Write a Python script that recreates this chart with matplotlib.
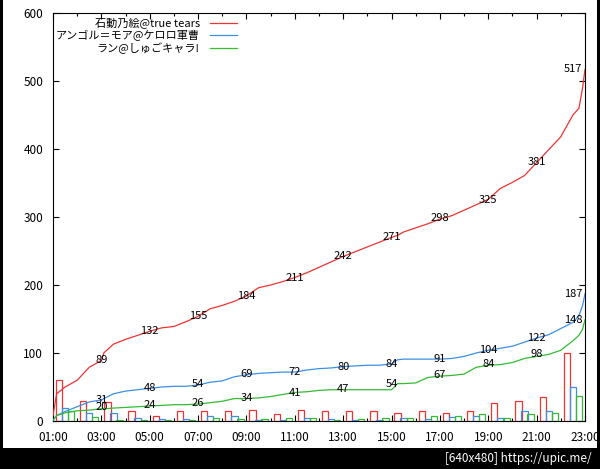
import matplotlib
matplotlib.use("Agg")
import numpy as np
import matplotlib.pyplot as plt
from matplotlib.patches import Rectangle
from matplotlib.lines import Line2D

plt.rcParams['font.family'] = ['Noto Sans CJK JP', 'DejaVu Sans']

# series names
names = ['石動乃絵@true tears', 'アンゴル＝モア@ケロロ軍曹', 'ラン@しゅごキャラ!']
colors = ['#ee3333', '#3d8fe6', '#33bb33']

# cumulative counts (line), sampled at these hours
times = [1.0, 1.15, 1.5, 2.0, 2.5, 3.0, 3.1, 3.5, 4.0, 4.5, 5.0, 5.5, 6.0, 6.5,
         7.0, 7.5, 8.0, 8.5, 9.0, 9.5, 10.0, 10.5, 11.0, 11.5, 12.0, 12.5, 13.0,
         13.5, 14.0, 14.5, 15.0, 15.25, 15.5, 16.0, 16.5, 17.0, 17.5, 18.0, 18.5,
         19.0, 19.5, 20.0, 20.5, 21.0, 21.5, 22.0, 22.5, 22.75, 22.9, 23.0]
red_cum = [8, 40, 50, 60, 79, 89, 100, 113, 120, 126, 132, 137, 139, 146,
           154, 165, 170, 176, 184, 196, 200, 205, 211, 218, 226, 234, 242,
           249, 256, 263, 270, 273, 278, 284, 290, 297, 302, 310, 318,
           326, 342, 351, 361, 380, 399, 418, 450, 460, 490, 517]
blue_cum = [1, 8, 14, 21, 28, 31, 33, 40, 44, 46, 48, 50, 51, 51,
            53, 57, 59, 65, 68, 70, 71, 72, 72, 75, 77, 78, 80,
            81, 82, 82, 84, 90, 91, 91, 91, 91, 92, 95, 100,
            104, 107, 110, 116, 122, 127, 136, 145, 155, 170, 187]
green_cum = [1, 8, 12, 15, 16, 18, 18, 19, 20, 21, 22, 23, 24, 24,
             25, 27, 29, 33, 33, 34, 36, 39, 42, 43, 45, 46, 46,
             46, 46, 46, 46, 55, 55, 56, 64, 66, 67, 69, 79,
             82, 83, 86, 92, 95, 98, 104, 118, 126, 135, 149]

# labels on the lines at odd hours
label_hours = [3, 5, 7, 9, 11, 13, 15, 17, 19, 21, 23]
red_labels = [89, 132, 155, 184, 211, 242, 271, 298, 325, 381, 517]
blue_labels = [31, 48, 54, 69, 72, 80, 84, 91, 104, 122, 187]
green_labels = [20, 24, 26, 34, 41, 47, 54, 67, 84, 98, 148]

# hourly counts (bars), hour starting at 01:00 ... 22:00
hours = list(range(1, 23))
red_hourly = [60, 29, 28, 15, 8, 15, 15, 14, 16, 11, 16, 15, 14, 15, 12, 15, 12, 15, 27, 29, 36, 100]
blue_hourly = [19, 12, 12, 5, 3, 3, 7, 8, 1, 2, 5, 3, 2, 2, 4, 3, 6, 7, 4, 14, 15, 50]
green_hourly = [14, 6, 2, 2, 1, 1, 5, 3, 3, 4, 4, 2, 3, 4, 5, 8, 7, 10, 4, 10, 12, 37]

fig = plt.figure(figsize=(6.0, 4.69), dpi=100, facecolor='black')
# white page above the black strip
bg = Rectangle((3 / 600, 21 / 469), 594 / 600, 448 / 469, transform=fig.transFigure,
               facecolor='white', edgecolor='none', zorder=-5)
fig.patches.append(bg)

ax = fig.add_axes([53 / 600, 48 / 469, 532 / 600, 408 / 469])
ax.set_facecolor('white')

series = [(red_cum, red_labels, red_hourly), (blue_cum, blue_labels, blue_hourly),
          (green_cum, green_labels, green_hourly)]
bar_off = [0.12, 0.37, 0.62]
for i, (cum, labs, hourly) in enumerate(series):
    ax.plot(times, cum, color=colors[i], lw=0.9, zorder=3)
    ax.bar(np.array(hours) + bar_off[i], hourly, width=0.26, align='edge',
           fill=False, edgecolor=colors[i], linewidth=0.9, zorder=2)
    for h, v in zip(label_hours, labs):
        if h == 23:
            ax.text(h - 0.1, v, str(v), ha='right', va='center', fontsize=8, zorder=4)
        else:
            ax.text(h, v, str(v), ha='center', va='center', fontsize=8, zorder=4)

ax.set_xlim(1, 23)
ax.set_ylim(0, 600)
ax.set_xticks(range(1, 24, 2))
ax.set_xticklabels(['%02d:00' % h for h in range(1, 24, 2)])
ax.set_xticks(range(1, 24), minor=True)
ax.set_yticks(range(0, 601, 100))
ax.tick_params(which='both', direction='in', top=True, right=True,
               labelsize=8.5, pad=7, width=0.8)
ax.tick_params(which='major', length=4)
ax.tick_params(which='minor', length=2)
for s in ax.spines.values():
    s.set_linewidth(0.8)

# legend (right-aligned text with line samples)
leg_y = [0.976, 0.946, 0.9135]
for i in range(3):
    ax.text(0.276, leg_y[i], names[i], transform=ax.transAxes, ha='right',
            va='center', fontsize=8)
    ax.add_line(Line2D([0.2951, 0.3459], [leg_y[i], leg_y[i]], transform=ax.transAxes,
                       color=colors[i], lw=0.9))

fig.text(592 / 600, 1 - 458 / 469, '[640x480] https://upic.me/', color='white',
         ha='right', va='center', fontsize=8.5)

fig.savefig('out.png', dpi=100, facecolor='black')
